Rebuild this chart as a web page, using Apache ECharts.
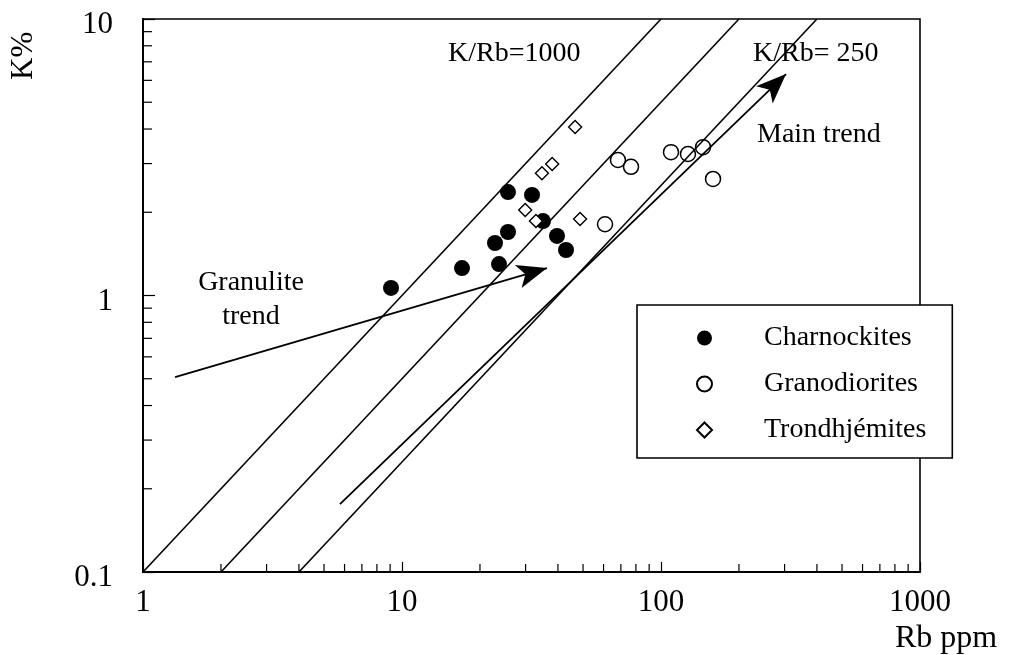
<!DOCTYPE html>
<html>
<head>
<meta charset="utf-8">
<script src="https://cdn.jsdelivr.net/npm/echarts@6/dist/echarts.min.js"></script>
<style>
html,body{margin:0;padding:0;background:#fff;}
#chart{width:1010px;height:655px;}
</style>
</head>
<body>
<div id="chart"></div>
<script>
// ---- data ----
const charnRb = [9.07, 17.05, 22.86, 23.69, 25.66, 25.66, 31.77, 35.03, 39.67, 42.98];
const charnK  = [1.065, 1.257, 1.548, 1.299, 1.697, 2.367, 2.310, 1.859, 1.642, 1.461];
const granoRb = [60.8, 68.2, 76.6, 109.3, 127.1, 145.3, 158.8];
const granoK  = [1.81, 3.09, 2.92, 3.30, 3.25, 3.44, 2.64];
const trondRb = [46.6, 38.0, 34.7, 29.9, 32.9, 48.7];
const trondK  = [4.07, 2.99, 2.77, 2.04, 1.86, 1.89];
const kRbRatios = [1000, 500, 250];
const kRange = [0.1, 10];
const granuliteArrow = [[1.33, 0.507], [36.3, 1.257]];
const mainArrow = [[5.76, 0.176], [303.8, 6.32]];
const xMinorTicks = [2,3,4,5,6,7,8,9,20,30,40,50,60,70,80,90,200,300,400,500,600,700,800,900];
const yMinorTicks = [0.2,0.3,0.4,0.5,0.6,0.7,0.8,0.9,2,3,4,5,6,7,8,9];
const seriesNames = ['Charnockites', 'Granodiorites', 'Trondhjémites'];

const zip = (a, b) => a.map((v, i) => [v, b[i]]);
const FONT = '"Liberation Serif", "DejaVu Serif", serif';

const chart = echarts.init(document.getElementById('chart'), null, {renderer: 'canvas'});

const ratioSeries = kRbRatios.map(r => ({
  type: 'line',
  data: kRange.map(k => [k * 10000 / r, k]),
  symbol: 'none',
  lineStyle: {color: '#000', width: 1.6},
  silent: true,
  z: 1
}));

const arrowSeries = {
  type: 'line',
  data: [],
  silent: true,
  markLine: {
    silent: true,
    symbol: ['none', 'arrow'],
    symbolSize: [18, 30],
    label: {show: false},
    lineStyle: {color: '#000', width: 1.8, type: 'solid'},
    emphasis: {disabled: true},
    data: [
      [{coord: granuliteArrow[0]}, {coord: granuliteArrow[1]}],
      [{coord: mainArrow[0]}, {coord: mainArrow[1]}]
    ]
  },
  z: 2
};

const minorTickSeries = {
  type: 'custom',
  silent: true,
  data: xMinorTicks.map(v => [v, 'x']).concat(yMinorTicks.map(v => [v, 'y'])),
  renderItem: function (params, api) {
    const v = api.value(0);
    const axis = params.dataIndex < xMinorTicks.length ? 'x' : 'y';
    if (axis === 'x') {
      const p = api.coord([v, kRange[0]]);
      return {type: 'line', shape: {x1: p[0], y1: p[1], x2: p[0], y2: p[1] - 8},
              style: {stroke: '#000', lineWidth: 1.2}};
    } else {
      const p = api.coord([1, v]);
      return {type: 'line', shape: {x1: p[0], y1: p[1], x2: p[0] + 9, y2: p[1]},
              style: {stroke: '#000', lineWidth: 1.2}};
    }
  },
  encode: {x: 0},
  z: 3
};

const option = {
  backgroundColor: '#fff',
  animation: false,
  grid: {left: 143, right: 90, top: 19, bottom: 83, show: true,
         borderColor: '#000', borderWidth: 1.6, backgroundColor: 'transparent',
         outerBoundsMode: 'none'},
  xAxis: {
    type: 'log', logBase: 10, min: 1, max: 1000,
    axisLine: {show: true, lineStyle: {color: '#000', width: 2}},
    axisTick: {show: true, inside: true, length: 10, lineStyle: {color: '#000', width: 1.2}},
    splitLine: {show: false},
    axisLabel: {color: '#000', fontFamily: FONT, fontSize: 31, margin: 15,
                formatter: v => String(v)}
  },
  yAxis: {
    type: 'log', logBase: 10, min: 0.1, max: 10,
    axisLine: {show: true, lineStyle: {color: '#000', width: 2}},
    axisTick: {show: true, inside: true, length: 12, lineStyle: {color: '#000', width: 1.2}},
    splitLine: {show: false},
    axisLabel: {color: '#000', fontFamily: FONT, fontSize: 31, margin: 30,
                formatter: v => '{a|' + v + '}',
                rich: {a: {fontFamily: FONT, fontSize: 31, color: '#000', padding: [12, 0, 0, 0]}}}
  },
  legend: {
    data: seriesNames,
    orient: 'vertical',
    left: 637, top: 305,
    padding: [19, 26, 14, 59],
    itemGap: 18,
    itemWidth: 15, itemHeight: 15,
    borderColor: '#000', borderWidth: 1.6,
    backgroundColor: '#fff',
    selectedMode: false,
    textStyle: {color: '#000', fontFamily: FONT, fontSize: 28, padding: [0, 0, 0, 47]}
  },
  graphic: [
    {type: 'text', left: 448, top: 40, style: {text: 'K/Rb=1000', font: '28px ' + FONT, fill: '#000'}},
    {type: 'text', left: 753, top: 40, style: {text: 'K/Rb= 250', font: '28px ' + FONT, fill: '#000'}},
    {type: 'text', left: 757, top: 121, style: {text: 'Main trend', font: '28px ' + FONT, fill: '#000'}},
    {type: 'text', x: 251, y: 266, style: {text: 'Granulite\ntrend', font: '28px ' + FONT, fill: '#000',
      align: 'center', lineHeight: 34}},
    {type: 'text', x: 895, y: 623, style: {text: 'Rb ppm', font: '32px ' + FONT, fill: '#000'}},
    {type: 'text', x: 8, y: 80, rotation: Math.PI / 2,
     style: {text: 'K%', font: '31px ' + FONT, fill: '#000'}}
  ],
  series: [
    ...ratioSeries,
    arrowSeries,
    minorTickSeries,
    {name: seriesNames[0], type: 'scatter', data: zip(charnRb, charnK), symbol: 'circle', symbolSize: 16,
     itemStyle: {color: '#000', opacity: 1}, z: 5},
    {name: seriesNames[1], type: 'scatter', data: zip(granoRb, granoK), symbol: 'circle', symbolSize: 15,
     itemStyle: {color: 'rgba(255,255,255,0)', borderColor: '#000', borderWidth: 1.5, opacity: 1}, z: 5},
    {name: seriesNames[2], type: 'scatter', data: zip(trondRb, trondK), symbol: 'diamond', symbolSize: 13,
     itemStyle: {color: '#fff', borderColor: '#000', borderWidth: 1.4, opacity: 1}, z: 6}
  ]
};
chart.setOption(option);
</script>
</body>
</html>
